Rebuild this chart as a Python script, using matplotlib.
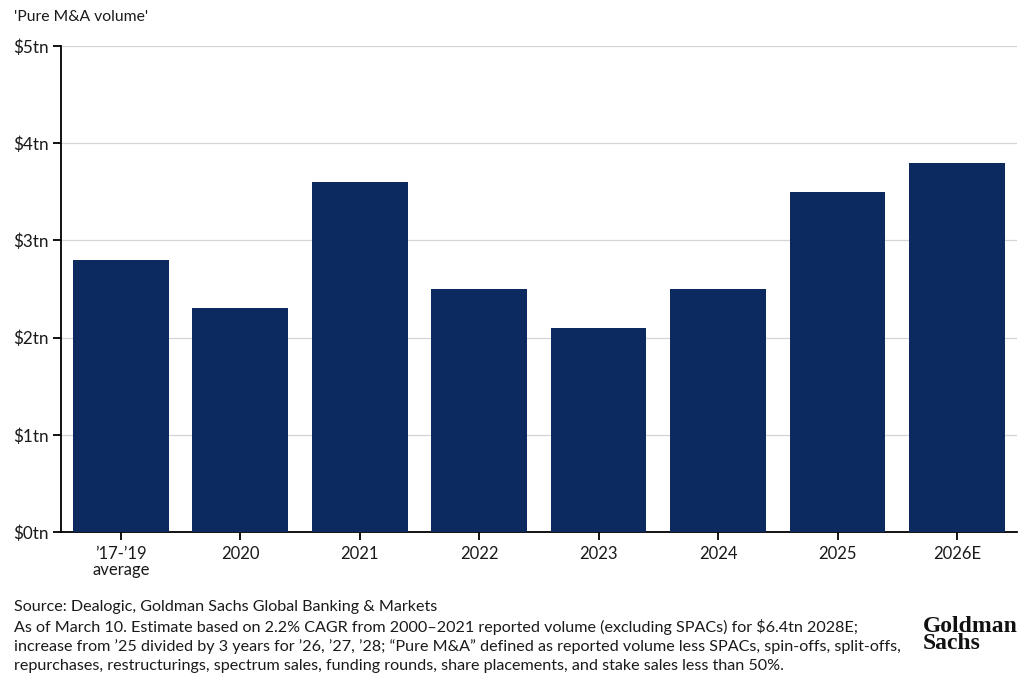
import matplotlib
matplotlib.use("Agg")
import matplotlib.pyplot as plt

# データ
categories = ["\u201917-\u201919\naverage", "2020", "2021", "2022", "2023", "2024", "2025", "2026E"]
volumes = [2.8, 2.3, 3.6, 2.5, 2.1, 2.5, 3.5, 3.8]
y_ticks = [0, 1, 2, 3, 4, 5]
y_labels = ["$0tn", "$1tn", "$2tn", "$3tn", "$4tn", "$5tn"]

title = "'Pure M&A volume'"
source_lines = [
    "Source: Dealogic, Goldman Sachs Global Banking & Markets",
    "As of March 10. Estimate based on 2.2% CAGR from 2000\u20132021 reported volume (excluding SPACs) for $6.4tn 2028E;",
    "increase from \u201925 divided by 3 years for \u201926, \u201927, \u201928; \u201cPure M&A\u201d defined as reported volume less SPACs, spin-offs, split-offs,",
    "repurchases, restructurings, spectrum sales, funding rounds, share placements, and stake sales less than 50%.",
]

plt.rcParams["font.family"] = ["Lato", "DejaVu Sans"]
NAVY = "#0c2a5f"

fig = plt.figure(figsize=(10.24, 6.93), dpi=100)
ax = fig.add_axes([0.0596, 0.2323, 0.9334, 0.7013])

x = range(len(categories))
ax.bar(x, volumes, width=0.8, color=NAVY, zorder=3)

ax.set_xlim(-0.5, 7.5)
ax.set_ylim(0, 5)
ax.set_yticks(y_ticks)
ax.set_yticklabels(y_labels, fontsize=12.3)
ax.set_xticks(list(x))
ax.set_xticklabels(categories, fontsize=12, linespacing=1.0)
ax.yaxis.grid(True, color="#d4d4d4", linewidth=0.9, zorder=0)

for side in ["top", "right"]:
    ax.spines[side].set_visible(False)
for side in ["left", "bottom"]:
    ax.spines[side].set_color("black")
    ax.spines[side].set_linewidth(1.3)
ax.tick_params(axis="both", length=6, width=1.3, color="black", labelcolor="#1a1a1a")
ax.tick_params(axis="y", pad=3)
ax.tick_params(axis="x", pad=4)

fig.text(0.014, 0.985, title, fontsize=11.3, color="#1a1a1a", va="top", ha="left")

fig.text(0.014, 0.134, "\n".join(source_lines), fontsize=11.6, color="#1a1a1a",
         va="top", ha="left", linespacing=1.38)

fig.text(0.901, 0.084, "Goldman\nSachs", fontsize=17, fontweight="bold",
         family=["Liberation Serif"], color="#111111", va="center", ha="left",
         linespacing=0.72)

fig.savefig("out.png", dpi=100)
